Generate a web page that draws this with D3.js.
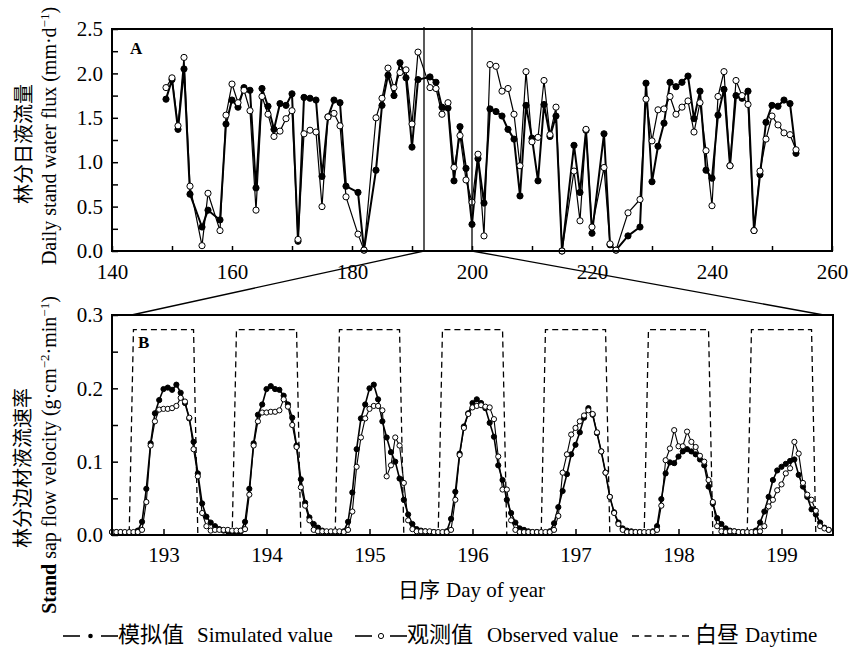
<!DOCTYPE html>
<html>
<head>
<meta charset="utf-8">
<script src="https://cdn.jsdelivr.net/npm/d3@7"></script>
<style>
  body { margin: 0; background: #fff; }
  svg text { font-family: "Times New Roman", "Liberation Serif", "Noto Sans CJK SC", serif; fill: #000; }
  .cjk { font-family: "Noto Sans CJK SC", sans-serif; }
</style>
</head>
<body>
<svg id="chart" width="850" height="647"></svg>
<script>
// panel A: daily stand water flux (mm/d)
var daysA = [149,150,151,152,153,155,156,158,159,160,161,162,163,164,165,166,167,168,169,170,
  171,172,173,174,175,176,177,178,179,181,182,184,185,186,187,188,189,190,191,
  193,194,195,196,197,198,199,200,201,202,203,204,205,206,207,208,209,210,211,212,213,214,215,
  217,218,219,220,222,223,224,226,
  228,229,230,231,232,233,234,235,236,237,238,239,240,241,242,243,244,245,246,247,248,249,250,251,252,253,254];
var simA = [1.71,1.93,1.37,2.05,0.64,0.27,0.46,0.35,1.43,1.70,1.62,1.84,1.81,0.71,1.83,1.63,1.37,1.66,1.64,1.77,
  0.11,1.73,1.72,1.70,0.84,1.51,1.70,1.67,0.73,0.66,0.01,0.91,1.64,1.98,1.75,2.12,1.95,1.17,1.93,
  1.96,1.90,1.62,1.61,0.79,1.40,0.93,0.30,1.04,0.54,1.60,1.57,1.52,1.37,1.26,0.62,1.64,1.27,0.79,1.65,1.29,1.52,0.00,
  1.19,0.66,1.36,0.20,1.32,0.07,0.01,0.17,
  0.27,1.89,0.78,1.18,1.44,1.90,1.85,1.90,1.97,1.49,1.80,0.91,0.82,1.53,1.82,0.96,1.75,1.72,1.80,0.23,0.86,1.45,1.64,1.63,1.70,1.66,1.10];
var obsA = [1.84,1.95,1.41,2.18,0.73,0.06,0.65,0.23,1.53,1.88,1.67,1.81,1.58,0.46,1.74,1.54,1.29,1.35,1.49,1.58,
  0.13,1.32,1.36,1.34,0.50,1.51,1.55,1.41,0.61,0.19,0.01,1.50,1.72,2.06,1.84,2.01,2.04,1.43,2.24,
  1.84,1.83,1.54,1.67,0.94,1.30,0.80,0.55,1.09,0.17,2.10,2.08,1.80,1.83,1.54,0.96,2.02,1.23,1.28,1.92,1.31,1.62,0.00,
  0.90,0.34,1.37,0.27,0.94,0.08,0.01,0.43,
  0.58,1.71,1.24,1.59,1.60,1.74,1.54,1.62,1.69,1.34,1.67,1.13,0.51,1.74,2.02,0.96,1.92,1.75,1.65,0.23,0.90,1.26,1.52,1.42,1.33,1.31,1.14];

// panel B: hourly stand sap flow velocity, one row of 24 hours per day
var daysB = [193,194,195,196,197,198,199];
var simB = [
  [0.004,0.004,0.004,0.003,0.003,0.003,0.006,0.018,0.063,0.125,0.166,0.184,0.199,0.201,0.198,0.205,0.194,0.180,0.159,0.127,0.084,0.043,0.025,0.017],
  [0.012,0.008,0.006,0.005,0.004,0.004,0.005,0.018,0.063,0.125,0.164,0.178,0.199,0.203,0.199,0.198,0.190,0.178,0.160,0.122,0.076,0.044,0.024,0.015],
  [0.010,0.006,0.004,0.003,0.003,0.003,0.005,0.018,0.058,0.117,0.159,0.178,0.200,0.205,0.185,0.155,0.133,0.113,0.100,0.077,0.048,0.028,0.015,0.008],
  [0.006,0.005,0.004,0.004,0.003,0.003,0.005,0.022,0.059,0.111,0.148,0.166,0.180,0.185,0.180,0.173,0.153,0.134,0.095,0.075,0.048,0.030,0.017,0.009],
  [0.007,0.005,0.004,0.004,0.003,0.003,0.005,0.016,0.038,0.060,0.083,0.110,0.123,0.140,0.160,0.173,0.164,0.139,0.114,0.085,0.052,0.031,0.017,0.009],
  [0.006,0.005,0.004,0.004,0.003,0.003,0.005,0.012,0.049,0.084,0.099,0.098,0.107,0.114,0.117,0.114,0.110,0.103,0.095,0.066,0.043,0.023,0.015,0.009],
  [0.006,0.005,0.004,0.004,0.003,0.003,0.006,0.017,0.032,0.052,0.075,0.088,0.093,0.097,0.101,0.103,0.082,0.066,0.052,0.035,0.028,0.017,0.010,0.007]
];
var obsB = [
  [0.004,0.004,0.004,0.004,0.004,0.004,0.004,0.007,0.045,0.122,0.155,0.171,0.172,0.172,0.173,0.176,0.187,0.182,0.160,0.117,0.080,0.030,0.012,0.006],
  [0.007,0.007,0.007,0.007,0.006,0.006,0.006,0.008,0.055,0.122,0.155,0.167,0.167,0.168,0.168,0.170,0.185,0.175,0.150,0.120,0.065,0.040,0.020,0.007],
  [0.005,0.005,0.005,0.005,0.005,0.005,0.004,0.007,0.032,0.093,0.133,0.159,0.172,0.176,0.176,0.170,0.080,0.095,0.133,0.122,0.071,0.020,0.008,0.005],
  [0.005,0.005,0.005,0.004,0.004,0.004,0.004,0.007,0.048,0.109,0.146,0.165,0.174,0.176,0.177,0.175,0.174,0.158,0.107,0.062,0.062,0.020,0.007,0.004],
  [0.004,0.004,0.004,0.004,0.004,0.004,0.004,0.007,0.026,0.085,0.110,0.137,0.146,0.155,0.163,0.170,0.165,0.140,0.114,0.085,0.052,0.030,0.015,0.007],
  [0.004,0.004,0.004,0.004,0.004,0.004,0.004,0.007,0.040,0.102,0.118,0.143,0.121,0.121,0.141,0.127,0.120,0.108,0.100,0.075,0.045,0.012,0.005,0.004],
  [0.005,0.005,0.004,0.004,0.004,0.004,0.004,0.005,0.012,0.039,0.048,0.061,0.069,0.084,0.091,0.127,0.111,0.071,0.055,0.048,0.033,0.012,0.009,0.007]
];
// daytime: first and last daylight hour, drawn at a fixed level
var daytimeHours = [5, 19];
var daytimeLevel = 0.28;
// days of panel A that are blown up in panel B
var zoomDays = [192, 200];

var svg = d3.select("#chart");

var xA = d3.scaleLinear().domain([140, 260]).range([112, 832]);
var yA = d3.scaleLinear().domain([0, 2.5]).range([251, 29]);
var xB = d3.scaleLinear().domain([192.5, 199.5]).range([112, 833]);
var yB = d3.scaleLinear().domain([0, 0.3]).range([535, 315]);

function isMajor(v, step) { return Math.abs(v / step - Math.round(v / step)) < 1e-6; }

function styleAxis(g) {
  g.attr("font-family", null).attr("font-size", 21);
  g.select(".domain").remove();
  g.selectAll(".tick line").attr("stroke", "#000").attr("stroke-width", 1.5);
}

// ---- panel A axes
svg.append("g")
    .attr("transform", "translate(0," + yA(0) + ")")
    .call(d3.axisBottom(xA).tickValues(d3.range(140, 261, 10)).tickSize(-5).tickPadding(13)
      .tickFormat(function(d) { return isMajor(d, 20) ? d : ""; }))
    .call(styleAxis);

svg.append("g")
    .attr("transform", "translate(" + xA(140) + ",0)")
    .call(d3.axisLeft(yA).tickValues(d3.range(0, 2.51, 0.25)).tickSize(-6).tickPadding(9)
      .tickFormat(function(d) { return isMajor(d, 0.5) ? d3.format(".1f")(d) : ""; }))
    .call(styleAxis);

// ---- panel B axes
svg.append("g")
    .attr("transform", "translate(0," + yB(0) + ")")
    .call(d3.axisBottom(xB).tickValues(daysB).tickSize(-6).tickPadding(12).tickFormat(d3.format("d")))
    .call(styleAxis);

svg.append("g")
    .attr("transform", "translate(" + xB(192.5) + ",0)")
    .call(d3.axisLeft(yB).tickValues(d3.range(0, 0.301, 0.05)).tickSize(-6).tickPadding(9)
      .tickFormat(function(d) { return isMajor(d, 0.1) ? d3.format(".1f")(d) : ""; }))
    .call(styleAxis);

// ---- panel A series
var lineA = d3.line()
    .x(function(d) { return xA(d[0]); })
    .y(function(d) { return yA(d[1]); });

var simPtsA = daysA.map(function(d, i) { return [d, simA[i]]; });
var obsPtsA = daysA.map(function(d, i) { return [d, obsA[i]]; });

function drawSeries(g, pts, line, filled, r, lw) {
  g.append("path")
      .datum(pts)
      .attr("fill", "none")
      .attr("stroke", "#000")
      .attr("stroke-width", lw)
      .attr("stroke-linejoin", "round")
      .attr("d", line);
  g.selectAll(null)
      .data(pts)
    .enter().append("circle")
      .attr("cx", function(d) { return line.x()(d); })
      .attr("cy", function(d) { return line.y()(d); })
      .attr("r", r)
      .attr("fill", filled ? "#000" : "#fff")
      .attr("stroke", "#000")
      .attr("stroke-width", 1);
}

var gA = svg.append("g");
drawSeries(gA, simPtsA, lineA, true, 3.1, 2);
drawSeries(gA, obsPtsA, lineA, false, 3.1, 1.2);

// ---- panel B series
var lineB = d3.line()
    .x(function(d) { return xB(d[0]); })
    .y(function(d) { return yB(d[1]); });

var simPtsB = [], obsPtsB = [], dayPts = [[192.5, 0]];
daysB.forEach(function(day, i) {
  var start = day - 0.5;
  simB[i].forEach(function(v, h) { simPtsB.push([start + h / 24, v]); });
  obsB[i].forEach(function(v, h) { obsPtsB.push([start + h / 24, v]); });
  dayPts.push([start + (daytimeHours[0] - 1) / 24, 0]);
  dayPts.push([start + daytimeHours[0] / 24, daytimeLevel]);
  dayPts.push([start + daytimeHours[1] / 24, daytimeLevel]);
  dayPts.push([start + (daytimeHours[1] + 1) / 24, 0]);
});
dayPts.push([199.5, 0]);

svg.append("path")
    .datum(dayPts)
    .attr("fill", "none")
    .attr("stroke", "#000")
    .attr("stroke-width", 1.3)
    .attr("stroke-dasharray", "6,4")
    .attr("d", lineB);

var gB = svg.append("g");
drawSeries(gB, simPtsB, lineB, true, 2.6, 1.6);
drawSeries(gB, obsPtsB, lineB, false, 2.6, 1.1);

// ---- frames
svg.append("rect")
    .attr("x", xA(140)).attr("y", yA(2.5))
    .attr("width", xA(260) - xA(140)).attr("height", yA(0) - yA(2.5))
    .attr("fill", "none").attr("stroke", "#000").attr("stroke-width", 2);
svg.append("rect")
    .attr("x", xB(192.5)).attr("y", yB(0.3))
    .attr("width", xB(199.5) - xB(192.5)).attr("height", yB(0) - yB(0.3))
    .attr("fill", "none").attr("stroke", "#000").attr("stroke-width", 2);

// zoom window markers and connectors
zoomDays.forEach(function(d) {
  svg.append("line")
      .attr("x1", xA(d)).attr("x2", xA(d))
      .attr("y1", yA(2.5) - 2).attr("y2", yA(0))
      .attr("stroke", "#000").attr("stroke-width", 1.3);
});
var connectEnds = [192.69, 199.41];
zoomDays.forEach(function(d, i) {
  svg.append("line")
      .attr("x1", xA(d)).attr("y1", yA(0))
      .attr("x2", xB(connectEnds[i])).attr("y2", yB(0.3))
      .attr("stroke", "#000").attr("stroke-width", 1.3);
});

// panel letters
svg.append("text").attr("x", 130).attr("y", 54).attr("font-size", 17).attr("font-weight", "bold").text("A");
svg.append("text").attr("x", 138).attr("y", 348).attr("font-size", 17).attr("font-weight", "bold").text("B");

// y axis titles
var tA = svg.append("text").attr("transform", "translate(56,136) rotate(-90)")
    .attr("text-anchor", "middle").attr("font-size", 20);
tA.append("tspan").text("Daily stand water flux (mm·d");
tA.append("tspan").attr("baseline-shift", "super").attr("font-size", 13).text("−1");
tA.append("tspan").text(")");
svg.append("text").attr("class", "cjk").attr("transform", "translate(31,144) rotate(-90)")
    .attr("text-anchor", "middle").attr("font-size", 20).text("林分日液流量");

var tB = svg.append("text").attr("transform", "translate(56,455) rotate(-90)")
    .attr("text-anchor", "middle").attr("font-size", 20);
tB.append("tspan").attr("font-weight", "bold").text("Stand");
tB.append("tspan").text(" sap flow velocity (g·cm");
tB.append("tspan").attr("baseline-shift", "super").attr("font-size", 13).text("−2");
tB.append("tspan").text("·min");
tB.append("tspan").attr("baseline-shift", "super").attr("font-size", 13).text("−1");
tB.append("tspan").text(")");
svg.append("text").attr("class", "cjk").attr("transform", "translate(30,468) rotate(-90)")
    .attr("text-anchor", "middle").attr("font-size", 20).text("林分边材液流速率");

// x axis title of panel B
svg.append("text").attr("class", "cjk").attr("x", 398).attr("y", 597).attr("font-size", 21).text("日序");
svg.append("text").attr("x", 446).attr("y", 597).attr("font-size", 21).text("Day of year");

// legend
var legY = 636;
var legend = svg.append("g");
[[63, 80], [101, 118], [355, 372], [390, 407]].forEach(function(s) {
  legend.append("line").attr("x1", s[0]).attr("x2", s[1]).attr("y1", legY).attr("y2", legY)
      .attr("stroke", "#000").attr("stroke-width", 1.6);
});
legend.append("circle").attr("cx", 90.5).attr("cy", legY).attr("r", 2.3).attr("fill", "#000");
legend.append("circle").attr("cx", 381).attr("cy", legY).attr("r", 2.6)
    .attr("fill", "#fff").attr("stroke", "#000").attr("stroke-width", 1);
legend.append("line").attr("x1", 632).attr("x2", 694).attr("y1", legY).attr("y2", legY)
    .attr("stroke", "#000").attr("stroke-width", 1.3).attr("stroke-dasharray", "7,5.5");
[["模拟值", 118, true], ["Simulated value", 197, false],
 ["观测值", 407, true], ["Observed value", 487, false],
 ["白昼", 695, true], ["Daytime", 745, false]].forEach(function(t) {
  legend.append("text")
      .attr("class", t[2] ? "cjk" : null)
      .attr("x", t[1]).attr("y", 642)
      .attr("font-size", t[2] ? 22 : 21)
      .text(t[0]);
});
</script>
</body>
</html>
